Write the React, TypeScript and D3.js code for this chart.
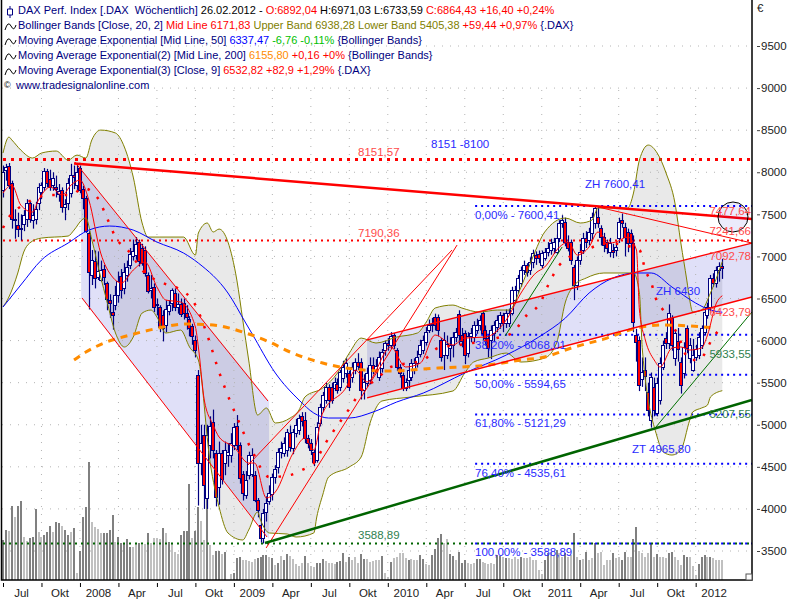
import { useEffect, useRef } from "react";
import * as d3 from "d3";

const opens = [
  7790, 8030, 8080, 7870, 7450, 7370, 7330, 7390, 7440, 7630, 7430, 7440, 7630, 7760, 7830, 8020, 7920, 7850, 7830, 7740,
  7790, 7590, 7630, 7750, 7965, 7850, 8045, 7800, 7700, 7280, 6780, 6950, 6750, 6720, 6850, 6680, 6480, 6340, 6420, 6540,
  6770, 6620, 6780, 6900, 7000, 7020, 7175, 7100, 7080, 6780, 6600, 6640, 6420, 6400, 6300, 6180, 6350, 6450, 6560, 6400,
  6440, 6450, 6330, 6260, 6170, 6005, 5590, 4541, 4880, 4125, 4760, 5030, 4660, 4264, 4660, 4540, 4640, 4640, 4760, 4980,
  4760, 4420, 4165, 4400, 4420, 4400, 4105, 3808, 3650, 3966, 4100, 4183, 4383, 4500, 4680, 4660, 4700, 4900, 4720, 4900,
  4937, 5100, 5055, 4838, 4780, 4680, 4580, 5015, 5215, 5294, 5450, 5450, 5432, 5490, 5450, 5551, 5610, 5610, 5570, 5650,
  5750, 5750, 5412, 5500, 5530, 5709, 5650, 5570, 5670, 5890, 5970, 5950, 6066, 5887, 5690, 5590, 5432, 5530, 5570, 5650,
  5730, 5846, 5890, 5987, 6125, 6200, 6283, 6283, 6006, 5828, 5830, 5910, 5950, 6040, 6315, 6066, 6085, 5847, 6050, 6045,
  6125, 6185, 6323, 6125, 6026, 6006, 6085, 6165, 6204, 6303, 6205, 6209, 6323, 6481, 6600, 6680, 6838, 6897, 6838, 6937,
  7016, 7030, 6897, 6976, 7056, 7076, 7095, 7056, 7215, 7393, 7413, 7175, 7175, 6878, 6660, 6957, 7076, 7215, 7195, 7274,
  7392, 7472, 7333, 7234, 7175, 7056, 7076, 7076, 7215, 7432, 7353, 7294, 7274, 7155, 6066, 6005, 5540, 5650, 5393, 5056,
  5452, 5135, 5294, 5690, 6026, 5967, 6264, 5789, 6000, 5749, 5610, 6145, 5789, 5650, 5800, 5828, 5947, 6105, 6300, 6403,
  6739, 6680, 6838, 6892,
];
const closes = [
  8000, 8060, 7850, 7450, 7430, 7330, 7340, 7490, 7630, 7440, 7490, 7560, 7830, 7850, 8020, 7870, 7830, 7930, 7800, 7780,
  7590, 7620, 7870, 7965, 7945, 8005, 7790, 7690, 7300, 6820, 6960, 6740, 6830, 6840, 6760, 6500, 6450, 6300, 6540, 6710,
  6600, 6820, 6880, 7030, 7070, 7150, 6940, 6920, 6800, 6590, 6620, 6400, 6440, 6165, 6150, 6380, 6420, 6600, 6400, 6440,
  6320, 6330, 6280, 6150, 6050, 5887, 4541, 4780, 4284, 4880, 4990, 4700, 4145, 4660, 4360, 4700, 4680, 4780, 4975, 4760,
  4363, 4185, 4340, 4640, 4640, 4105, 3985, 3650, 3947, 4066, 4190, 4383, 4480, 4680, 4720, 4780, 4917, 4740, 4917, 5000,
  5075, 5050, 4838, 4780, 4700, 4560, 4975, 5215, 5353, 5450, 5294, 5294, 5511, 5410, 5630, 5690, 5730, 5452, 5690, 5750,
  5700, 5412, 5511, 5620, 5709, 5650, 5700, 5810, 5868, 5970, 5950, 6050, 5947, 5690, 5610, 5432, 5510, 5650, 5729, 5729,
  5810, 5950, 6010, 6105, 6185, 6180, 6184, 6125, 5808, 6006, 5960, 5950, 6040, 6100, 6066, 6000, 5828, 6060, 6090, 6185,
  6185, 6250, 6085, 6026, 5906, 6125, 6185, 6244, 6303, 6205, 6323, 6333, 6600, 6600, 6740, 6838, 6900, 6818, 6937, 7036,
  6976, 6976, 7036, 7056, 7100, 7155, 7175, 7215, 7393, 7432, 7175, 7100, 6957, 6660, 6957, 7056, 7215, 7175, 7293, 7472,
  7570, 7392, 7234, 7130, 7096, 7155, 7056, 7115, 7413, 7393, 7234, 7155, 7155, 6224, 5987, 5472, 5630, 5580, 5175, 5571,
  5175, 5492, 5730, 5947, 5967, 6323, 5947, 6086, 5900, 5472, 5927, 5908, 5947, 5828, 5900, 6046, 6145, 6343, 6403, 6739,
  6680, 6838, 6892, 6864,
];
const highs = [
  8080, 8100, 8110, 7900, 7560, 7520, 7500, 7550, 7680, 7660, 7620, 7650, 7870, 7880, 8050, 8040, 8030, 8000, 7960, 7860,
  7820, 7680, 7930, 8100, 8080, 8110, 8080, 7840, 7720, 7300, 7076, 7070, 7060, 6950, 6900, 6700, 6550, 6520, 6650, 6820,
  6850, 6920, 6950, 7100, 7200, 7230, 7200, 7150, 7120, 6810, 6780, 6680, 6500, 6420, 6360, 6480, 6480, 6620, 6620, 6560,
  6500, 6500, 6420, 6290, 6200, 6060, 5650, 5000, 5000, 5000, 5100, 5180, 4700, 4800, 4700, 4800, 4780, 4900, 5020, 5115,
  4790, 4450, 4450, 4680, 4720, 4450, 4130, 3880, 4000, 4150, 4280, 4420, 4520, 4720, 4800, 4850, 4950, 4990, 4950, 5070,
  5120, 5150, 5150, 4880, 4830, 4700, 5030, 5250, 5390, 5500, 5480, 5500, 5560, 5550, 5650, 5760, 5790, 5640, 5740, 5790,
  5850, 5790, 5600, 5680, 5800, 5800, 5780, 5870, 5900, 6000, 6030, 6100, 6090, 5910, 5720, 5620, 5550, 5700, 5780, 5790,
  5880, 6010, 6060, 6160, 6250, 6270, 6320, 6310, 6030, 6100, 6060, 6040, 6100, 6150, 6360, 6150, 6120, 6100, 6150, 6230,
  6260, 6300, 6350, 6180, 6060, 6180, 6230, 6300, 6340, 6330, 6370, 6380, 6640, 6650, 6780, 6880, 6950, 6920, 6990, 7080,
  7060, 7070, 7070, 7100, 7170, 7210, 7220, 7260, 7430, 7490, 7460, 7250, 7200, 6900, 7000, 7150, 7280, 7300, 7340, 7520,
  7600, 7600, 7370, 7280, 7200, 7220, 7150, 7170, 7460, 7510, 7400, 7330, 7320, 7250, 6140, 6050, 5800, 5800, 5500, 5620,
  5560, 5560, 5800, 6000, 6100, 6430, 6300, 6130, 6150, 5800, 5980, 6180, 6030, 6020, 5950, 6100, 6180, 6380, 6450, 6780,
  6800, 6880, 6930, 6971,
];
const lows = [
  7700, 7900, 7800, 7330, 7210, 7230, 7190, 7300, 7350, 7400, 7330, 7380, 7550, 7680, 7780, 7820, 7780, 7780, 7700, 7650,
  7520, 7430, 7550, 7700, 7800, 7780, 7750, 7560, 7280, 6370, 6660, 6620, 6720, 6700, 6660, 6360, 6270, 6130, 6360, 6450,
  6500, 6550, 6700, 6850, 6950, 6960, 6880, 6890, 6760, 6560, 6500, 6340, 6300, 6100, 5990, 6100, 6300, 6350, 6350, 6320,
  6280, 6250, 6130, 6050, 5950, 5800, 4040, 4400, 4000, 4000, 4600, 4600, 4030, 4050, 4290, 4400, 4500, 4550, 4700, 4700,
  4300, 4100, 4120, 4350, 4380, 4080, 3900, 3600, 3589, 3850, 4050, 4100, 4300, 4420, 4600, 4620, 4620, 4680, 4650, 4850,
  4880, 4980, 4780, 4720, 4640, 4510, 4550, 4980, 5150, 5250, 5200, 5250, 5400, 5370, 5400, 5500, 5560, 5400, 5500, 5600,
  5650, 5300, 5300, 5450, 5480, 5600, 5620, 5520, 5620, 5820, 5880, 5900, 5900, 5640, 5560, 5400, 5400, 5430, 5520, 5600,
  5680, 5800, 5840, 5940, 6090, 6100, 6120, 6050, 5750, 5650, 5780, 5750, 5800, 5980, 5950, 5920, 5720, 5800, 5980, 5980,
  6080, 6120, 6000, 5940, 5800, 5780, 5980, 6100, 6140, 6100, 6150, 6160, 6300, 6440, 6560, 6640, 6780, 6760, 6780, 6860,
  6900, 6920, 6860, 6950, 7000, 7020, 7030, 7030, 7170, 7340, 7120, 7060, 6900, 6480, 6600, 6900, 7030, 7100, 7130, 7200,
  7330, 7340, 7130, 7050, 7030, 6990, 6980, 7000, 7160, 7340, 7000, 7050, 7100, 6100, 5750, 5400, 5450, 5400, 5100, 4966,
  5100, 5100, 5240, 5650, 5900, 5900, 5880, 5700, 5750, 5370, 5550, 5850, 5730, 5630, 5760, 5780, 5900, 6060, 6260, 6350,
  6640, 6630, 6700, 6733,
];

// volume, tone 1 = dark bar, 0 = light bar
const volumes = [
  40, 50, 49, 74, 63, 74, 79, 43, 39, 42, 43, 71, 48, 43, 45, 48, 54, 48, 58, 57,
  54, 50, 45, 48, 52, 7, 29, 63, 73, 118, 58, 53, 51, 47, 47, 47, 50, 65, 38, 43,
  37, 37, 41, 33, 33, 37, 37, 35, 36, 47, 37, 42, 42, 41, 52, 47, 38, 36, 28, 26,
  45, 49, 49, 96, 42, 49, 73, 59, 40, 83, 35, 25, 29, 29, 26, 28, 0, 6, 7, 22,
  23, 20, 20, 19, 18, 21, 22, 23, 25, 25, 23, 22, 15, 17, 24, 20, 26, 24, 21, 16,
  14, 17, 24, 17, 14, 13, 17, 17, 21, 19, 17, 17, 16, 18, 19, 27, 18, 23, 20, 23,
  17, 26, 21, 21, 18, 19, 20, 20, 24, 7, 3, 18, 22, 23, 27, 27, 22, 20, 21, 20,
  20, 25, 21, 16, 15, 25, 31, 42, 46, 37, 41, 26, 24, 20, 28, 17, 20, 17, 16, 17,
  21, 21, 18, 17, 16, 17, 16, 25, 24, 23, 22, 22, 21, 23, 21, 23, 22, 22, 23, 20,
  20, 10, 6, 20, 27, 28, 25, 30, 27, 23, 27, 23, 25, 47, 23, 20, 21, 28, 20, 22, 37,
  27, 28, 15, 20, 20, 27, 22, 23, 20, 28, 23, 23, 41, 53, 29, 27, 23, 27, 37, 23,
  26, 23, 23, 22, 27, 28, 23, 20, 15, 25, 23, 23, 14, 5, 16, 23, 25, 23, 23, 22,
  20, 20, 20,
];
const volumeTone = [
  1, 1, 0, 1, 0, 1, 1, 0, 0, 1, 1, 1, 0, 0, 1, 1, 1, 0, 1, 1,
  0, 1, 1, 0, 1, 0, 1, 1, 1, 1, 0, 0, 0, 0, 1, 1, 1, 1, 0, 1,
  1, 1, 1, 1, 0, 0, 1, 0, 0, 1, 0, 0, 0, 0, 1, 0, 1, 0, 0, 0,
  1, 1, 1, 1, 0, 1, 1, 0, 0, 1, 0, 0, 1, 1, 0, 1, 0, 0, 1, 1,
  1, 0, 0, 0, 0, 0, 1, 1, 1, 1, 0, 1, 0, 1, 0, 1, 1, 0, 0, 0,
  0, 0, 1, 0, 0, 0, 1, 1, 1, 0, 0, 0, 0, 1, 1, 1, 0, 1, 0, 0,
  0, 1, 1, 0, 0, 0, 0, 0, 1, 0, 0, 1, 0, 0, 0, 0, 0, 1, 0, 0,
  0, 1, 1, 0, 0, 1, 1, 1, 1, 0, 0, 1, 1, 0, 1, 1, 1, 0, 0, 0,
  1, 1, 0, 0, 0, 0, 0, 1, 1, 0, 1, 0, 0, 0, 0, 1, 0, 0, 0, 0,
  0, 0, 0, 1, 1, 0, 0, 1, 0, 0, 1, 0, 0, 1, 0, 1, 0, 1, 0, 0, 1,
  0, 0, 0, 0, 0, 1, 0, 0, 1, 1, 0, 0, 1, 1, 0, 0, 0, 0, 1, 0,
  1, 0, 0, 0, 1, 1, 0, 0, 0, 1, 1, 0, 0, 0, 1, 1, 1, 0, 1, 0,
  0, 0, 0,
];

const upperWeeks = [0, 2, 3, 6, 10, 13, 18, 22, 25, 28, 30, 33, 38, 41, 44, 47, 49, 53, 61, 65, 66, 69, 71, 73, 76, 79, 81, 83, 86, 89, 92, 97, 100, 102, 108, 113, 117, 121, 126, 133, 140, 143, 146, 152, 155, 161, 167, 171, 175, 179, 183, 190, 195, 199, 201, 211, 213, 215, 218, 221, 224, 227, 229, 231, 232, 233, 236, 239, 243];
const upperBand = [8228, 8418, 8383, 8264, 8169, 8228, 8252, 8145, 8204, 8169, 8383, 8501, 8466, 8300, 7943, 7397, 7230, 7230, 7230, 7016, 7278, 7397, 7290, 7325, 7171, 6719, 6244, 5769, 5116, 5199, 5021, 5080, 5175, 5330, 5436, 5615, 5852, 6030, 5971, 6042, 6090, 6220, 6387, 6422, 6387, 6339, 6363, 6363, 6636, 6993, 7290, 7456, 7397, 7432, 7575, 7575, 7753, 8145, 8323, 8228, 7991, 7634, 7159, 6719, 6482, 6339, 6363, 6565, 6938];
const lowerWeeks = [0, 2, 5, 7, 9, 13, 22, 24, 27, 28, 30, 33, 35, 38, 41, 44, 47, 50, 52, 55, 60, 63, 66, 70, 73, 76, 81, 83, 86, 87, 90, 96, 99, 105, 106, 108, 110, 117, 121, 124, 126, 128, 138, 152, 156, 159, 164, 170, 175, 183, 187, 190, 193, 197, 203, 213, 215, 216, 221, 223, 226, 229, 232, 233, 236, 238, 239, 243];
const lowerBand = [6399, 6518, 6803, 7052, 7159, 7218, 7242, 7313, 7444, 7456, 7200, 6755, 6482, 6090, 5924, 6042, 6327, 6363, 6280, 6090, 6125, 5924, 5769, 4545, 4023, 3714, 3631, 3749, 3963, 3868, 3714, 3702, 3666, 3714, 3904, 4165, 4379, 4498, 4617, 5021, 5199, 5282, 5330, 5401, 5615, 5745, 5793, 5852, 5745, 5793, 5971, 6458, 6660, 6743, 6803, 6803, 6565, 5888, 4854, 4676, 4640, 4700, 5056, 5151, 5199, 5234, 5330, 5405];
const midWeeks = [0, 1, 8, 16, 23, 27, 32, 35, 38, 43, 47, 54, 59, 65, 69, 73, 77, 79, 84, 90, 97, 101, 105, 109, 116, 123, 125, 131, 142, 147, 154, 168, 172, 177, 181, 185, 188, 197, 204, 215, 217, 219, 221, 223, 228, 232, 235, 240, 243];
const midLine = [7337, 7409, 7634, 7729, 7729, 7812, 7694, 7468, 7230, 7040, 6838, 6684, 6624, 6422, 6066, 5627, 5258, 5092, 4700, 4379, 4403, 4462, 4545, 4783, 5139, 5472, 5508, 5686, 5769, 5912, 5947, 6042, 6090, 6304, 6422, 6719, 6898, 7076, 7159, 7076, 6838, 6684, 6458, 6363, 6066, 5769, 5769, 6042, 6172];
const ema50Weeks = [0, 6, 13, 22, 29, 36, 44, 52, 61, 66, 76, 82, 84, 92, 100, 105, 110, 117, 125, 133, 142, 156, 170, 181, 190, 198, 206, 214, 219, 226, 234, 239, 243];
const ema50 = [6399, 6660, 6957, 7159, 7313, 7361, 7313, 7171, 7040, 6921, 6565, 6209, 6090, 5615, 5294, 5139, 5080, 5080, 5151, 5270, 5377, 5615, 5828, 6042, 6268, 6565, 6743, 6803, 6803, 6636, 6446, 6363, 6337];
const ema200Weeks = [24, 28, 35, 43, 51, 62, 71, 82, 90, 97, 108, 116, 130, 147, 164, 175, 183, 192, 204, 214, 223, 239];
const ema200 = [5769, 5864, 5983, 6066, 6137, 6197, 6185, 6090, 5983, 5864, 5733, 5674, 5638, 5674, 5710, 5769, 5805, 5912, 6030, 6149, 6185, 6155];
const ema9Weeks = [0, 3, 6, 10, 12, 16, 20, 23, 26, 29, 33, 37, 40, 44, 48, 52, 55, 60, 65, 66, 68, 71, 73, 78, 83, 85, 89, 92, 98, 102, 105, 108, 116, 119, 123, 131, 136, 141, 146, 152, 156, 163, 170, 175, 180, 183, 188, 191, 194, 198, 201, 205, 207, 211, 214, 215, 217, 220, 222, 226, 229, 232, 236, 238, 241, 243];
const ema9 = [7753, 7848, 7610, 7527, 7670, 7824, 7729, 7848, 7907, 7670, 7040, 6755, 6684, 6838, 6933, 6636, 6482, 6458, 6161, 5924, 5294, 4997, 4854, 4736, 4545, 4545, 4130, 4201, 4664, 4842, 4700, 5139, 5448, 5650, 5508, 5924, 5686, 5733, 6066, 5947, 6030, 6042, 6244, 6565, 6803, 6874, 7112, 7171, 7016, 7112, 7290, 7159, 7171, 7230, 7076, 6363, 6007, 5769, 5686, 5912, 5924, 5888, 5912, 6066, 6446, 6533];

const monthLabels = ["Jul", "Okt", "2008", "Apr", "Jul", "Okt", "2009", "Apr", "Jul", "Okt", "2010", "Apr", "Jul", "Okt", "2011", "Apr", "Jul", "Okt", "2012"];
const monthWeeks = [0, 13, 26, 39, 52, 65, 78, 91, 104, 117, 130, 143, 156, 169, 182, 195, 208, 221, 234];
const priceTicks = [3500, 4000, 4500, 5000, 5500, 6000, 6500, 7000, 7500, 8000, 8500, 9000, 9500];

const fibLevels = [7600.41, 6068.01, 5594.65, 5121.29, 4535.61, 3588.89];
const fibNames = ["0,00% - 7600,41", "38,20% - 6068,01", "50,00% - 5594,65", "61,80% - 5121,29", "76,40% - 4535,61", "100,00% - 3588,89"];

// trendlines as [week, price] pairs
const mainResistance = [[24, 8105], [253, 7444]];
const mainSupport = [[88.5, 3595], [253, 5294]];
const fallUpper = [[24.3, 8121], [89.5, 5282]];
const fallLower = [[26.7, 6506], [89.2, 3666]];
const fallFill = [[26.4, 8030], [89.9, 5282], [89.9, 3640], [26.4, 6506]];
const riseA = [[88.9, 3536], [153.4, 7135]];
const riseB = [[82.8, 4522], [151.7, 7076]];
const flatUpper = [[123, 6007], [253, 7159]];
const flatLower = [[123, 5318], [253, 6518]];
const flatFill = [[123, 6007], [253, 7159], [253, 6518], [123, 5318]];
const highLine = [[201, 7587], [253, 7159]];
const greenA = [[169.6, 6054], [188.9, 7112]];
const greenB = [[220.3, 4961], [253, 6339]];

const NAVY = "#000080";
const FONT = "'Liberation Sans', Arial, sans-serif";

const legendRows: [string, string][][] = [
  [["DAX Perf. Index [.DAX  Wöchentlich] ", NAVY], ["26.02.2012 - ", "#000"], ["O:6892,04 ", "#ff0000"], ["H:6971,03 L:6733,59 ", "#000"], ["C:6864,43 +16,40 +0,24%", "#ff0000"]],
  [["Bollinger Bands [Close, 20, 2] ", NAVY], ["Mid Line 6171,83 ", "#ff0000"], ["Upper Band 6938,28 Lower Band 5405,38 ", "#808000"], ["+59,44 +0,97% ", "#ff0000"], ["{.DAX}", NAVY]],
  [["Moving Average Exponential [Mid Line, 50] ", NAVY], ["6337,47 ", "#0000ff"], ["-6,76 -0,11% ", "#00c000"], ["{Bollinger Bands}", NAVY]],
  [["Moving Average Exponential(2) [Mid Line, 200] ", NAVY], ["6155,80 ", "#ff8c00"], ["+0,16 +0% ", "#ff0000"], ["{Bollinger Bands}", NAVY]],
  [["Moving Average Exponential(3) [Close, 9] ", NAVY], ["6532,82 +82,9 +1,29% ", "#ff0000"], ["{.DAX}", NAVY]],
];

export default function App() {
  const svgRef = useRef<SVGSVGElement>(null);

  useEffect(() => {
    if (!svgRef.current) return;
    const svg = d3.select(svgRef.current);
    svg.selectAll("*").remove();

    const x = d3.scaleLinear().domain([0, 243]).range([3, 722.3]);
    const y = d3.scaleLinear().domain([3500, 9500]).range([551, 46]);
    const vol = d3.scaleLinear().domain([0, 140]).range([580, 440]);

    const left = 2;
    const right = 752;
    const bottom = 580;

    svg.append("rect").attr("width", 800).attr("height", 600).attr("fill", "#fff");

    svg.append("clipPath").attr("id", "plot").append("rect")
      .attr("x", left).attr("y", 0).attr("width", right - left).attr("height", bottom);
    const g = svg.append("g").attr("clip-path", "url(#plot)");

    const toPoints = (weeks: number[], values: number[]) =>
      weeks.map((w, i) => [x(w), y(values[i])] as [number, number]);
    const line = d3.line().curve(d3.curveMonotoneX);
    const poly = (pts: number[][]) =>
      d3.line()(pts.map((p) => [x(p[0]), y(p[1])] as [number, number])) + "Z";

    // Bollinger fill
    const up = toPoints(upperWeeks, upperBand);
    const lo = toPoints(lowerWeeks, lowerBand);
    g.append("path")
      .attr("fill", "#e9e9e9")
      .attr("d", line(up)! + "L" + line(lo.slice().reverse())!.slice(1) + "Z");

    // channels
    g.append("path").attr("fill", "#0000c8").attr("opacity", 0.12).attr("d", poly(fallFill));
    g.append("path").attr("fill", "#0000c8").attr("opacity", 0.12).attr("d", poly(flatFill));

    // grid
    g.append("g").selectAll("line").data(priceTicks).join("line")
      .attr("x1", left).attr("x2", right)
      .attr("y1", (d) => y(d)).attr("y2", (d) => y(d))
      .attr("stroke", "#b4b4b4").attr("stroke-dasharray", "1 7");
    g.append("g").selectAll("line").data(monthWeeks.slice(1)).join("line")
      .attr("x1", (d) => x(d)).attr("x2", (d) => x(d))
      .attr("y1", 90).attr("y2", bottom)
      .attr("stroke", "#b4b4b4").attr("stroke-dasharray", "1 7");

    // volume
    g.append("g").selectAll("rect").data(volumes).join("rect")
      .attr("x", (_, i) => Math.round(x(i)) - 1)
      .attr("width", 2)
      .attr("y", (d) => vol(d))
      .attr("height", (d) => bottom - vol(d))
      .attr("fill", (_, i) => (volumeTone[i] ? "#808080" : "#c0c0c0"))
      .attr("shape-rendering", "crispEdges");

    // horizontal levels
    const level = (price: number, from: number, color: string, width: number, dash: string) =>
      g.append("line")
        .attr("x1", x(from)).attr("x2", right)
        .attr("y1", y(price)).attr("y2", y(price))
        .attr("stroke", color).attr("stroke-width", width).attr("stroke-dasharray", dash);
    level(8151.57, 0, "#ff0000", 3, "3 5");
    level(7190.36, 0, "#ff0000", 2, "2 4");
    level(3588.89, 0, "#006400", 2, "2 4");
    fibLevels.forEach((p) => level(p, 159.5, "#0000ff", 2, "2 4"));

    // candles, snapped to the pixel grid so the navy outline stays sharp
    const snap = (v: number) => Math.round(v) + 0.5;
    const candle = g.append("g").selectAll("g").data(closes).join("g")
      .attr("transform", (_, i) => `translate(${Math.round(x(i))},0)`);
    candle.append("line")
      .attr("x1", 0.5).attr("x2", 0.5)
      .attr("y1", (_, i) => y(highs[i]))
      .attr("y2", (_, i) => y(lows[i]))
      .attr("stroke", NAVY).attr("stroke-width", 1.2);
    candle.append("rect")
      .attr("x", -1.5).attr("width", 3)
      .attr("y", (d, i) => snap(y(Math.max(d, opens[i]))))
      .attr("height", (d, i) => Math.max(1, snap(y(Math.min(d, opens[i]))) - snap(y(Math.max(d, opens[i])))))
      .attr("fill", (d, i) => (d < opens[i] ? "#ff0000" : "#fff"))
      .attr("stroke", NAVY).attr("stroke-width", 1);

    // indicators
    const curve = (weeks: number[], values: number[], color: string, width: number, dash?: string) =>
      g.append("path")
        .attr("fill", "none").attr("stroke", color).attr("stroke-width", width)
        .attr("stroke-dasharray", dash ?? null)
        .attr("d", line(toPoints(weeks, values)));
    curve(upperWeeks, upperBand, "#808000", 1);
    curve(lowerWeeks, lowerBand, "#808000", 1);
    curve(ema50Weeks, ema50, "#0000ff", 1);
    curve(ema200Weeks, ema200, "#ff8c00", 3, "7 6");
    curve(midWeeks, midLine, "#ff0000", 2.5, "2.5 10");
    curve(ema9Weeks, ema9, "#ff0000", 1);

    // trendlines
    const seg = (pts: number[][], color: string, width: number) =>
      g.append("line")
        .attr("x1", x(pts[0][0])).attr("y1", y(pts[0][1]))
        .attr("x2", x(pts[1][0])).attr("y2", y(pts[1][1]))
        .attr("stroke", color).attr("stroke-width", width);
    seg(fallUpper, "#ff0000", 1);
    seg(fallLower, "#ff0000", 1);
    seg(riseA, "#ff0000", 1);
    seg(riseB, "#ff0000", 1);
    seg(flatUpper, "#ff0000", 1.3);
    seg(flatLower, "#ff0000", 1.3);
    seg(highLine, "#ff0000", 1);
    seg(greenA, "#007000", 1);
    seg(greenB, "#007000", 1);
    seg(mainResistance, "#ff0000", 2.5);
    seg(mainSupport, "#006400", 2.5);

    // marked point on the resistance line
    g.append("circle")
      .attr("cx", 733).attr("cy", 217).attr("r", 15)
      .attr("fill", "#0000c8").attr("fill-opacity", 0.08)
      .attr("stroke", "#000").attr("stroke-width", 1);

    // annotations
    const note = (text: string, px: number, py: number, color: string, anchor = "start") =>
      svg.append("text")
        .attr("x", px).attr("y", py)
        .attr("text-anchor", anchor)
        .attr("font-family", FONT).attr("font-size", 11.5)
        .attr("fill", color).text(text);
    const BLUE = "#2a2aff";
    const CORAL = "#ff4a4a";
    const GREEN = "#2f7f4f";
    note("8151,57", 358, 156, CORAL);
    note("7190,36", 358, 237, CORAL);
    note("8151 -8100", 431, 148, BLUE);
    note("ZH 7600,41", 585, 188, BLUE);
    note("ZH 6430", 656, 295, BLUE);
    note("ZT 4965,80", 632, 453, BLUE);
    note("3588,89", 358, 539, GREEN);
    note("7477,64", 751, 215, CORAL, "end");
    note("7241,66", 751, 235, CORAL, "end");
    note("7092,78", 751, 260, CORAL, "end");
    note("6423,79", 751, 316, CORAL, "end");
    note("5933,55", 751, 358, GREEN, "end");
    note("5207,55", 751, 418, GREEN, "end");
    const fibY = [219, 349, 388, 427, 477, 556];
    fibNames.forEach((n, i) => note(n, 475, fibY[i], BLUE));

    // axes
    const xAxis = svg.append("g")
      .attr("transform", `translate(0,${bottom + 3})`)
      .call(
        d3.axisBottom(x).tickValues(monthWeeks)
          .tickSize(4).tickSizeOuter(0)
          .tickFormat((_, i) => monthLabels[i])
      );
    xAxis.select(".domain").remove();
    xAxis.selectAll("text")
      .attr("dx", 18).attr("y", 6)
      .attr("font-family", FONT).attr("font-size", 11.5).attr("fill", "#222");

    const yAxis = svg.append("g")
      .attr("transform", `translate(${right + 5},0)`)
      .call(d3.axisRight(y).tickValues(priceTicks).tickSize(3).tickPadding(1).tickFormat((d) => String(d)));
    yAxis.select(".domain").remove();
    yAxis.selectAll("line").attr("stroke", "#444");
    yAxis.selectAll("text")
      .attr("font-family", FONT).attr("font-size", 11.5).attr("fill", "#222");

    svg.append("text").attr("x", 757).attr("y", 12)
      .attr("font-family", FONT).attr("font-size", 11.5).attr("fill", "#222").text("€");

    const frame = d3.path();
    frame.moveTo(left - 0.5, 0);
    frame.lineTo(left - 0.5, bottom);
    frame.lineTo(right, bottom);
    frame.lineTo(right, 0);
    svg.append("path").attr("fill", "none").attr("stroke", "#000").attr("stroke-width", 1.5).attr("d", frame.toString());

    // corner grip
    svg.append("rect").attr("x", 746).attr("y", 574).attr("width", 6).attr("height", 6)
      .attr("fill", "#fff").attr("stroke", "#555");

    // legend
    const legend = svg.append("g").attr("font-family", FONT).attr("font-size", 11);
    legendRows.forEach((row, r) => {
      const t = legend.append("text")
        .attr("x", 18).attr("y", 14 + r * 15)
        .style("white-space", "pre");
      row.forEach(([s, c]) => t.append("tspan").attr("fill", c).text(s));
      legend.append("path")
        .attr("fill", "none").attr("stroke", r === 0 ? NAVY : "#000")
        .attr("d", r === 0
          ? "M10 6V9M10 15V18M7.5 9H12.5V15H7.5Z"
          : `M5 ${15 + r * 15}Q8 ${5 + r * 15} 11 ${11 + r * 15}T16 ${10 + r * 15}`);
    });
    legend.append("text").attr("x", 16).attr("y", 89).attr("fill", "#000080").text("www.tradesignalonline.com");
    legend.append("text").attr("x", 4).attr("y", 88).attr("font-size", 9).attr("fill", "#000").text("©");
  }, []);

  return (
    <svg
      ref={svgRef}
      width={800}
      height={600}
      style={{ position: "absolute", left: 0, top: 0 }}
    />
  );
}
